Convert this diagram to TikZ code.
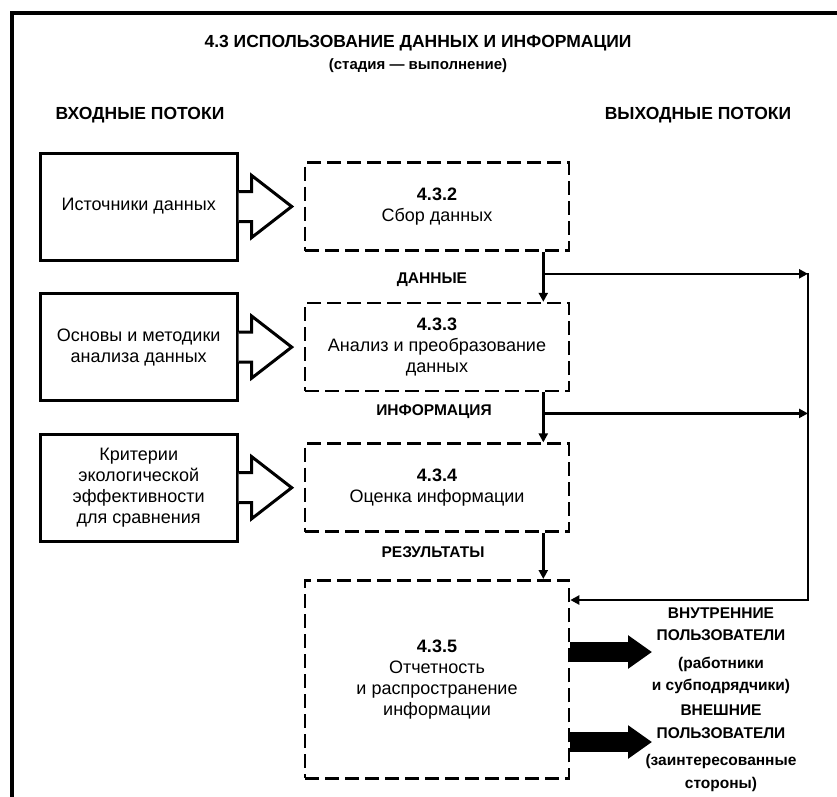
\documentclass[tikz,border=0pt]{standalone}
\usepackage{fontspec}
\setmainfont{Liberation Sans}
\usetikzlibrary{arrows.meta,
	positioning,
	calc}

\tikzset{
	inbox/.style={draw, line width=3pt, minimum width=197pt, minimum height=107pt,
		inner sep=2pt, align=center, font=\fontsize{18}{21}\selectfont},
	stagebox/.style={draw, dash pattern=on 14pt off 6pt, line width=2.6pt,
		minimum width=264pt, minimum height=88pt, inner sep=2pt, align=center,
		font=\fontsize{18}{21}\selectfont},
	inarrow/.style={draw, line width=3pt, fill=white, line join=miter},
	flowlabel/.style={font=\bfseries\fontsize{15.5}{18}\selectfont},
	headlabel/.style={font=\bfseries\fontsize{17.5}{20}\selectfont},
	userlabel/.style={align=center, font=\bfseries\fontsize{15.5}{22.5}\selectfont},
	flow/.style={line width=2.4pt, -{Triangle[length=9pt,width=9pt]}},
	outarrow/.style={line width=20pt, -{Triangle[length=24pt,width=32pt]}}
}

\begin{document}
\begin{tikzpicture}[x=1pt, y=-1pt]
		\useasboundingbox (0,0) rectangle (837,796);
		\draw [line width=3.5pt] (850,13) -- (12,13) -- (12,810);

		\node [headlabel] (title) at (418,43) {4.3 ИСПОЛЬЗОВАНИЕ ДАННЫХ И ИНФОРМАЦИИ};
		\node [font=\bfseries\fontsize{15}{17}\selectfont, below=1pt of title] (stage) {(стадия — выполнение)};
		\node [headlabel] (inflows) at (140,115) {ВХОДНЫЕ ПОТОКИ};
		\node [headlabel] (outflows) at (698,115) {ВЫХОДНЫЕ ПОТОКИ};

		% stages
		\node [stagebox] (collect) at (437,206.5) {\textbf{4.3.2}\\Сбор данных};
		\node [stagebox, below=50pt of collect] (analyze) {\textbf{4.3.3}\\Анализ и преобразование\\данных};
		\node [stagebox, below=50pt of analyze] (evaluate) {\textbf{4.3.4}\\Оценка информации};
		\node [stagebox, minimum height=198pt, below=46pt of evaluate] (report)
			{\textbf{4.3.5}\\Отчетность\\и распространение\\информации};

		% input flows
		\node [inbox, left=65pt of collect] (sources) {Источники данных};
		\node [inbox, left=65pt of analyze] (methods) {Основы и методики\\анализа данных};
		\node [inbox, left=65pt of evaluate] (criteria)
			{Критерии\\экологической\\эффективности\\для сравнения};
		\foreach \b in {sources, methods, criteria}
			\draw [inarrow] (\b.east) ++(0,-15) -- ++(13,0) -- ++(0,-16) -- ++(40,31)
				-- ++(-40,31) -- ++(0,-16) -- ++(-13,0);

		% flow labels
		\node [flowlabel] (data) at (432,280) {ДАННЫЕ};
		\node [flowlabel] (info) at (434,412) {ИНФОРМАЦИЯ};
		\node [flowlabel] (results) at (433,552) {РЕЗУЛЬТАТЫ};

		\coordinate (j1) at ($(collect.south east)+(-27,22)$);
		\coordinate (j2) at ($(analyze.south east)+(-27,21)$);
		\coordinate (bus1) at (808,0 |- j1);
		\coordinate (bus2) at (808,0 |- j2);
		\coordinate (bus3) at (808,600);

		\draw [flow] (collect.south -| j1) -- (analyze.north -| j1);
		\draw [flow] (analyze.south -| j2) -- (evaluate.north -| j2);
		\draw [flow] (evaluate.south -| j2) -- (report.north -| j2);
		\draw [flow] (j1) -- (bus1);
		\draw [flow] (j2) -- (bus2);
		\draw [flow, line cap=rect] (bus1) -- (bus3) -- (report.east |- bus3);

		% output flows
		\node [userlabel] (internal) at (721,651)
			{ВНУТРЕННИЕ\\ПОЛЬЗОВАТЕЛИ\\[5pt](работники\\и субподрядчики)};
		\node [userlabel, below=4pt of internal] (external)
			{ВНЕШНИЕ\\ПОЛЬЗОВАТЕЛИ\\[5pt](заинтересованные\\стороны)};
		\draw [outarrow] (report.east |- 0,652) -- (652,652);
		\draw [outarrow] (report.east |- 0,742) -- (652,742);
	\end{tikzpicture}
\end{document}
